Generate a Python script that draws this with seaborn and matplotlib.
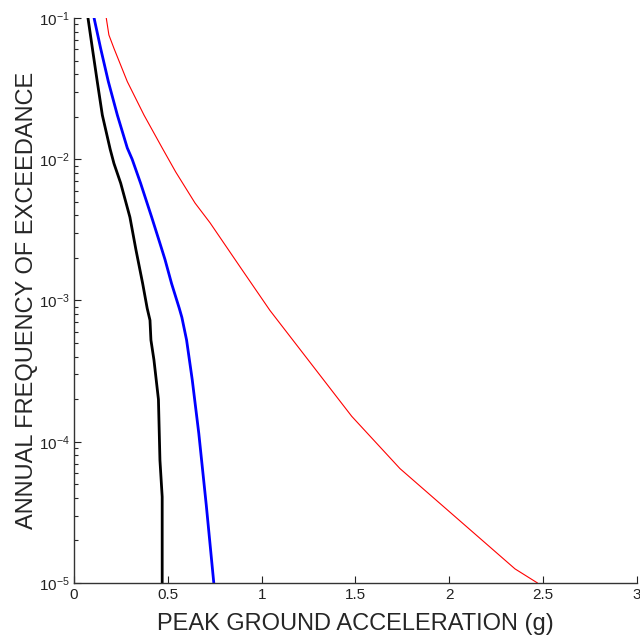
import numpy as np
import pandas as pd
import seaborn as sns
import matplotlib.pyplot as plt
from matplotlib.ticker import LogLocator, NullFormatter

# hazard curves (PGA in g, log10 of annual frequency of exceedance)
black_pga = [0.0746, 0.098, 0.124, 0.151, 0.193, 0.213, 0.249, 0.298, 0.330, 0.366, 0.39,
             0.405, 0.41, 0.426, 0.45, 0.458, 0.47, 0.47]
black_log = [-1.0, -1.215, -1.45, -1.687, -1.93, -2.03, -2.17, -2.41, -2.64, -2.88, -3.055,
             -3.14, -3.28, -3.42, -3.70, -4.13, -4.39, -5.0]

blue_pga = [0.107, 0.142, 0.183, 0.231, 0.284, 0.31, 0.355, 0.414, 0.458, 0.485, 0.52, 0.561,
            0.575, 0.60, 0.63, 0.665, 0.705, 0.745]
blue_log = [-1.0, -1.215, -1.45, -1.687, -1.92, -2.0, -2.17, -2.41, -2.595, -2.71, -2.88, -3.055,
            -3.12, -3.28, -3.56, -3.94, -4.45, -5.0]

red_pga = [0.172, 0.186, 0.213, 0.284, 0.373, 0.47, 0.542, 0.645, 0.725, 0.884, 1.044,
           1.48, 1.737, 2.35, 2.47]
red_log = [-1.0, -1.12, -1.215, -1.45, -1.687, -1.92, -2.09, -2.31, -2.45, -2.76, -3.07,
           -3.82, -4.19, -4.90, -5.0]

frames = []
for name, g, lg in [("black", black_pga, black_log), ("blue", blue_pga, blue_log), ("red", red_pga, red_log)]:
    frames.append(pd.DataFrame({"pga": g, "freq": 10.0 ** np.array(lg), "curve": name}))
alldata = pd.concat(frames, ignore_index=True)

sns.set_style("white")
plt.rcParams['font.family'] = ['Liberation Sans', 'DejaVu Sans']
plt.rcParams['mathtext.fontset'] = 'custom'
plt.rcParams['mathtext.rm'] = 'Liberation Sans'

fig = plt.figure(figsize=(6.4, 6.38), dpi=100)
ax = fig.add_axes([0.1156, 0.0862, 0.8797, 0.8856])

widths = {"black": 2.0, "blue": 2.0, "red": 0.8}
for name in ["red", "blue", "black"]:
    sub = alldata[alldata["curve"] == name]
    sns.lineplot(data=sub, x="pga", y="freq", sort=False, estimator=None,
                 color=name, linewidth=widths[name], ax=ax)

ax.set_yscale("log")
ax.set_xlim(0, 3)
ax.set_ylim(1e-5, 1e-1)
ax.set_xticks([0, 0.5, 1, 1.5, 2, 2.5, 3])
ax.set_xticklabels(["0", "0.5", "1", "1.5", "2", "2.5", "3"])
ax.yaxis.set_minor_locator(LogLocator(base=10, subs=np.arange(2, 10)))
ax.yaxis.set_minor_formatter(NullFormatter())

# matlab style: no box, ticks pointing in
sns.despine(ax=ax)
for s in ["left", "bottom"]:
    ax.spines[s].set_color("#333333")
    ax.spines[s].set_linewidth(1.0)

ax.tick_params(axis="both", which="major", direction="in", length=5, width=0.8,
               labelsize=11, colors="#222222", left=True, bottom=True)
ax.tick_params(axis="y", which="minor", direction="in", length=3, width=0.8, left=True)
ax.tick_params(axis="y", which="major", pad=3)

ax.set_xlabel("PEAK GROUND ACCELERATION (g)", fontsize=17, labelpad=8)
ax.set_ylabel("ANNUAL FREQUENCY OF EXCEEDANCE", fontsize=17, labelpad=1)

plt.savefig("out.png", dpi=100)
